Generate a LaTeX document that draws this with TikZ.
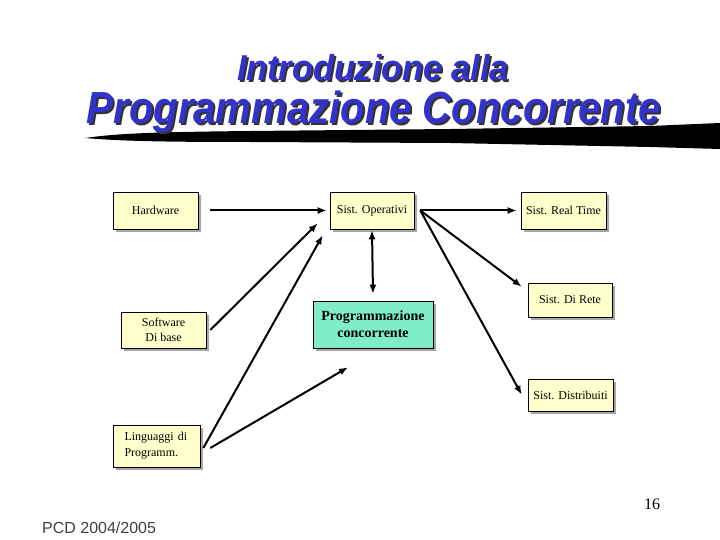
\documentclass[tikz,border=0pt]{standalone}
\usepackage{fontspec}
\setmainfont{Liberation Serif}
\setsansfont{Liberation Sans}
\usetikzlibrary{shadows,arrows.meta}
\definecolor{boxy}{RGB}{255,255,204}
\definecolor{mint}{RGB}{127,238,200}
\definecolor{titleblue}{RGB}{51,51,204}
\begin{document}
\begin{tikzpicture}[x=1pt,y=-1pt,
  box/.style={draw=black, line width=0.6pt, fill=boxy, inner sep=2pt, align=center,
    font=\fontsize{12}{14}\selectfont,
    drop shadow={shadow xshift=3pt, shadow yshift=-3pt, fill=gray!70, opacity=1}},
  conn/.style={line width=2pt, -{Latex[length=9pt,width=7pt]}},
  ttl/.style={inner sep=0pt}]
\useasboundingbox (0,0) rectangle (720,540);
\fill[white] (0,0) rectangle (720,540);
% brush stroke
\fill[black] (85,138) .. controls (120,133) and (160,132) .. (250,131) -- (450,129) -- (650,126) -- (720,123) -- (720,149) -- (650,147) -- (450,143) -- (250,142) .. controls (160,142) and (120,141) .. cycle;
% title
\node[ttl, text=black!80, xscale=0.95, font=\fontsize{36}{40}\sffamily\bfseries\itshape] at (375,70) {Introduzione alla};
\node[ttl, text=titleblue, xscale=0.95, font=\fontsize{36}{40}\sffamily\bfseries\itshape] (t1) at (373,68) {Introduzione alla};
\node[ttl, text=black!80, xscale=0.89, font=\fontsize{45}{50}\sffamily\bfseries\itshape] at (376,114) {Programmazione Concorrente};
\node[ttl, text=titleblue, xscale=0.89, font=\fontsize{45}{50}\sffamily\bfseries\itshape] (t2) at (374,112) {Programmazione Concorrente};
% boxes
\node[box, minimum width=85pt, minimum height=37pt] (hw) at (155.5,210.5) {Hardware};
\node[box, minimum width=84pt, minimum height=37pt] (so) at (372,210.5) {Sist. Operativi};
\node[box, minimum width=85pt, minimum height=37pt] (rt) at (563.5,210.5) {Sist. Real Time};
\node[box, minimum width=84pt, minimum height=34pt] (rete) at (570,300) {Sist. Di Rete};
\node[box, minimum width=85pt, minimum height=36pt, font=\fontsize{12}{15}\selectfont] (sw) at (163.5,330) {Software\\ Di base};
\node[box, fill=mint, minimum width=120pt, minimum height=47pt, font=\fontsize{14}{17}\selectfont\bfseries] (pc) at (373,324.5) {Programmazione\\ concorrente};
\node[box, minimum width=85pt, minimum height=32pt] (dist) at (570.5,395) {Sist. Distribuiti};
\node[box, minimum width=87pt, minimum height=42pt, align=left, text width=64pt, font=\fontsize{12}{16}\selectfont] (ling) at (156.5,446) {Linguaggi di\\Programm.};
% connectors
\draw[conn] ([xshift=12pt]hw.east) -- ([xshift=-3pt]so.west);
\draw[conn] ([xshift=4pt]sw.east) -- ([xshift=-12pt,yshift=6pt]so.south west);
\draw[conn] ([xshift=3pt,yshift=-2pt]ling.east) -- ([xshift=-7pt,yshift=-6pt]so.south west);
\draw[conn] ([xshift=10pt,yshift=-2pt]ling.east) -- ([xshift=-25pt,yshift=-19pt]pc.south);
\draw[conn, {Latex[length=9pt,width=7pt]}-{Latex[length=9pt,width=7pt]}] ([yshift=-1pt]so.south) -- ([yshift=7pt]pc.north);
\draw[conn] ([xshift=6pt]so.east) -- ([xshift=-4pt]rt.west);
\draw[conn] ([xshift=6pt]so.east) -- ([xshift=-6pt,yshift=-4pt]rete.north west);
\draw[conn] ([xshift=6pt]so.east) -- ([xshift=-6pt,yshift=-16pt]dist.north west);
% footer
\node[font=\fontsize{16}{18}\sffamily, text=black!75, anchor=west, inner sep=0pt] (foot) at (42,528) {PCD 2004/2005};
\node[font=\fontsize{16}{18}\selectfont, anchor=center, inner sep=0pt] (pg) at (652,504) {16};
\end{tikzpicture}
\end{document}
